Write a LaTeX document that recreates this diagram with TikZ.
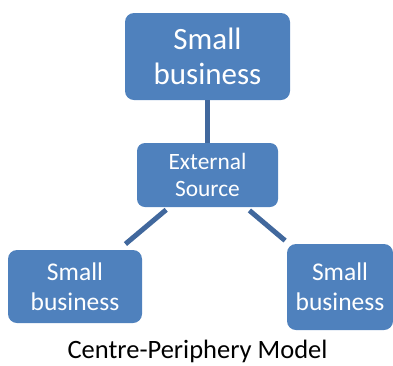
\documentclass[tikz,border=0pt]{standalone}
\usepackage{fontspec}
\setmainfont{Carlito}
\begin{document}
\begin{tikzpicture}[x=1pt,y=-1pt,
  bizbox/.style={fill=boxblue, draw=none, rounded corners=9pt, text=white,
    align=center, inner sep=0pt},
  link/.style={draw=linkblue, line width=5pt}]
\definecolor{boxblue}{HTML}{4F81BD}
\definecolor{linkblue}{HTML}{41689D}
\useasboundingbox (0,0) rectangle (393,365);
% boxes
\node[bizbox, minimum width=165pt, minimum height=87pt,
  font=\fontsize{31}{35}\selectfont] (top) at (207.5,56.5) {Small\\business};
\node[bizbox, minimum width=141pt, minimum height=64pt, rounded corners=8pt,
  font=\fontsize{23.4}{27}\selectfont] (ext) at (207.5,175) {External\\Source};
\node[bizbox, minimum width=134pt, minimum height=73pt,
  font=\fontsize{25.5}{30}\selectfont] (bl) at (75,286.5) {Small\\business};
\node[bizbox, minimum width=106pt, minimum height=86pt,
  font=\fontsize{25.5}{30}\selectfont] (br) at (340,287) {Small\\business};
% connectors
\draw[link] (top) -- (ext);
\draw[link, shorten <=4pt, shorten >=9pt] (ext) -- (bl);
\draw[link, shorten <=5pt, shorten >=5pt] (ext) -- (br);
% caption
\node[anchor=base, font=\fontsize{26.5}{30}\selectfont, inner sep=0pt] (cap)
  at (197.5,358) {Centre-Periphery Model};
\end{tikzpicture}
\end{document}
